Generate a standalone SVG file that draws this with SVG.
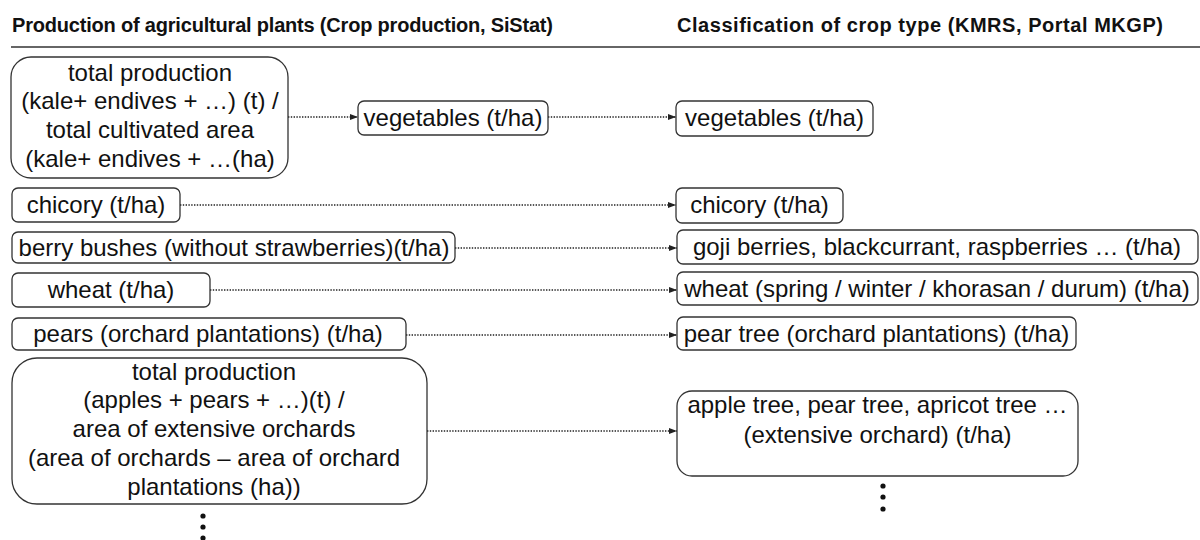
<svg xmlns="http://www.w3.org/2000/svg" width="1200" height="540" viewBox="0 0 1200 540">
<style>
.bx{fill:#fff;stroke:#333;stroke-width:1.3}
.t{font-family:"Liberation Sans",Arial,sans-serif;font-size:24px;fill:#111;text-anchor:middle}
.h{font-family:"Liberation Sans",Arial,sans-serif;font-size:20px;font-weight:bold;fill:#111}
.c{fill:none;stroke:#222;stroke-width:1.4;stroke-dasharray:1.4 1.4}
.d{fill:#111}
</style>
<defs>
<marker id="ah" viewBox="0 0 8 8" refX="8" refY="4" markerWidth="8" markerHeight="8" markerUnits="userSpaceOnUse" orient="auto">
<path d="M0,1 L8,4 L0,7 Z" fill="#222"/>
</marker>
</defs>
<rect width="1200" height="540" fill="#fff"/>
<g id="header">
<text class="h" x="12" y="32" textLength="541" lengthAdjust="spacing">Production of agricultural plants (Crop production, SiStat)</text>
<text class="h" x="677" y="32" textLength="486" lengthAdjust="spacing">Classification of crop type (KMRS, Portal MKGP)</text>
<line x1="11" y1="47" x2="1200" y2="47" stroke="#666" stroke-width="2"/>
</g>
<g id="connectors">
<line class="c" x1="288" y1="117" x2="358" y2="117" marker-end="url(#ah)"/>
<line class="c" x1="548" y1="117" x2="676" y2="117" marker-end="url(#ah)"/>
<line class="c" x1="180" y1="205" x2="676" y2="205" marker-end="url(#ah)"/>
<line class="c" x1="455" y1="248" x2="677" y2="248" marker-end="url(#ah)"/>
<line class="c" x1="210" y1="290" x2="677" y2="290" marker-end="url(#ah)"/>
<line class="c" x1="406" y1="335" x2="677" y2="335" marker-end="url(#ah)"/>
<line class="c" x1="427" y1="431" x2="677" y2="431" marker-end="url(#ah)"/>
</g>
<g id="src-vegetables">
<rect class="bx" x="11" y="57" width="277" height="121" rx="20"/>
<text class="t" x="150" y="81">total production</text>
<text class="t" x="150" y="109">(kale+ endives + …) (t) /</text>
<text class="t" x="150" y="138">total cultivated area</text>
<text class="t" x="150" y="167">(kale+ endives + …(ha)</text>
</g>
<g id="mid-vegetables">
<rect class="bx" x="358" y="101" width="190" height="34" rx="6"/>
<text class="t" x="453" y="126">vegetables (t/ha)</text>
</g>
<g id="src-chicory">
<rect class="bx" x="12" y="188" width="168" height="34" rx="6"/>
<text class="t" x="96" y="213">chicory (t/ha)</text>
</g>
<g id="src-berry">
<rect class="bx" x="12" y="232" width="443" height="31" rx="6"/>
<text class="t" x="234" y="256">berry bushes (without strawberries)(t/ha)</text>
</g>
<g id="src-wheat">
<rect class="bx" x="12" y="273" width="198" height="34" rx="6"/>
<text class="t" x="111" y="298">wheat (t/ha)</text>
</g>
<g id="src-pears">
<rect class="bx" x="12" y="318" width="394" height="32" rx="6"/>
<text class="t" x="208" y="342">pears (orchard plantations) (t/ha)</text>
</g>
<g id="src-orchards">
<rect class="bx" x="12" y="358" width="415" height="146" rx="25"/>
<text class="t" x="214" y="380">total production</text>
<text class="t" x="214" y="408">(apples + pears + …)(t) /</text>
<text class="t" x="214" y="437">area of extensive orchards</text>
<text class="t" x="214" y="466">(area of orchards – area of orchard</text>
<text class="t" x="214" y="495">plantations (ha))</text>
</g>
<g id="src-more">
<circle class="d" cx="203" cy="516" r="2.6"/>
<circle class="d" cx="203" cy="527" r="2.6"/>
<circle class="d" cx="203" cy="538" r="2.6"/>
</g>
<g id="dst-vegetables">
<rect class="bx" x="676" y="101" width="197" height="35" rx="6"/>
<text class="t" x="774.5" y="126">vegetables (t/ha)</text>
</g>
<g id="dst-chicory">
<rect class="bx" x="676" y="188" width="167" height="35" rx="6"/>
<text class="t" x="759.5" y="213">chicory (t/ha)</text>
</g>
<g id="dst-berries">
<rect class="bx" x="677" y="230" width="521" height="34" rx="6"/>
<text class="t" x="937" y="255">goji berries, blackcurrant, raspberries … (t/ha)</text>
</g>
<g id="dst-wheat">
<rect class="bx" x="677" y="272" width="521" height="33" rx="6"/>
<text class="t" x="937" y="297">wheat (spring / winter / khorasan / durum) (t/ha)</text>
</g>
<g id="dst-pear">
<rect class="bx" x="677" y="317" width="399" height="33" rx="6"/>
<text class="t" x="876.5" y="342">pear tree (orchard plantations) (t/ha)</text>
</g>
<g id="dst-orchard">
<rect class="bx" x="677" y="391" width="401" height="85" rx="15"/>
<text class="t" x="877.5" y="413">apple tree, pear tree, apricot tree …</text>
<text class="t" x="877.5" y="443">(extensive orchard) (t/ha)</text>
</g>
<g id="dst-more">
<circle class="d" cx="883" cy="486" r="2.6"/>
<circle class="d" cx="883" cy="497" r="2.6"/>
<circle class="d" cx="883" cy="509" r="2.6"/>
</g>
</svg>
